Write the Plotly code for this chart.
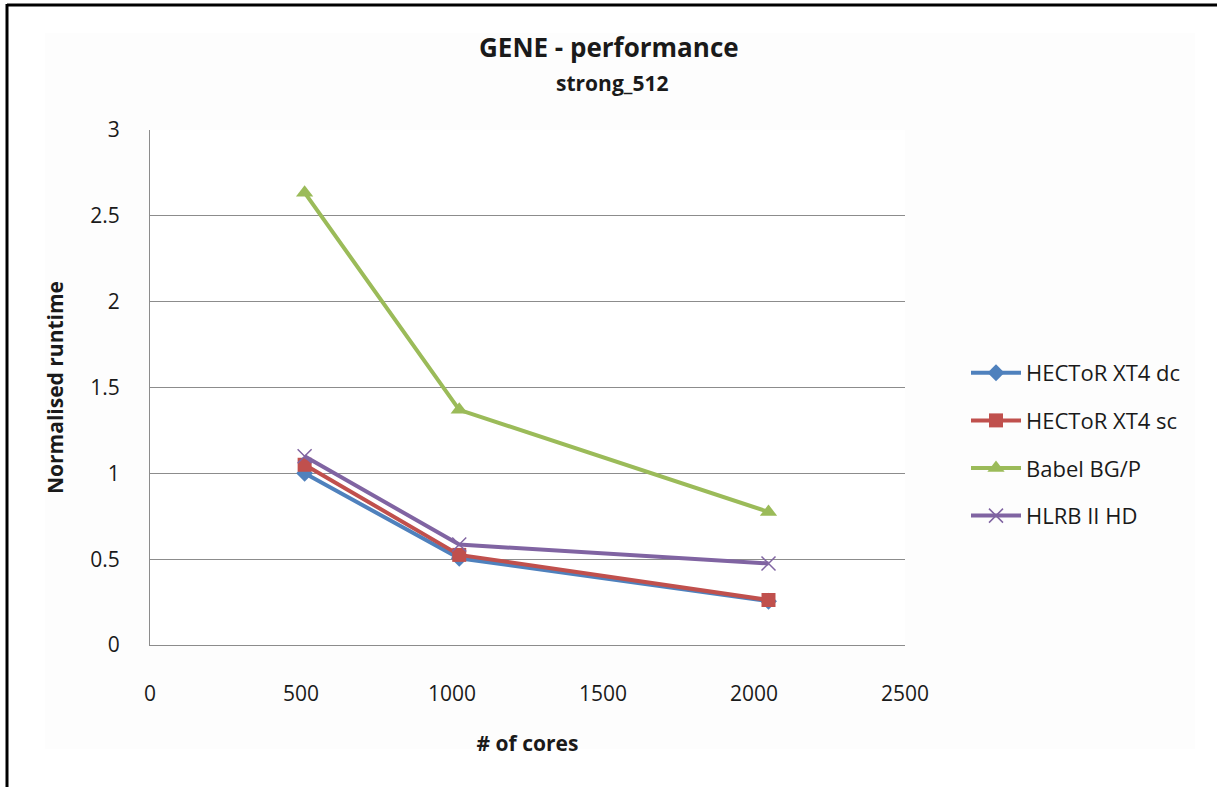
import plotly.graph_objects as go

# Core counts and normalised runtimes per machine
cores = [512, 1024, 2048]
hector_dc = [1.00, 0.505, 0.255]
hector_sc = [1.05, 0.525, 0.262]
babel_bgp = [2.635, 1.37, 0.775]
hlrb_hd = [1.10, 0.585, 0.475]

series_names = ["HECToR XT4 dc", "HECToR XT4 sc", "Babel BG/P", "HLRB II HD"]
series_values = [hector_dc, hector_sc, babel_bgp, hlrb_hd]
colors = ["#4F81BD", "#C0504D", "#9BBB59", "#8064A2"]
symbols = ["diamond", "square", "triangle-up", "x-thin"]
sizes = [13, 14, 15, 14]

x_ticks = [0, 500, 1000, 1500, 2000, 2500]
y_ticks = [0, 0.5, 1, 1.5, 2, 2.5, 3]

FONT = "Open Sans"
TXT = "#1a1a1a"

fig = go.Figure()
for name, vals, col, sym, sz in zip(series_names, series_values, colors, symbols, sizes):
    marker = dict(symbol=sym, size=sz, color=col)
    if sym == "x-thin":
        marker["line"] = dict(color=col, width=1.5)
    fig.add_trace(go.Scatter(
        x=cores, y=vals, name=name, mode="lines+markers",
        line=dict(color=col, width=4), marker=marker,
        legendgroup=name,
    ))

W, H = 1217, 787
L, R, T, B = 150, 312, 130, 142
pw, ph = W - L - R, H - T - B


def px_x(v):
    return (v - L) / pw


def px_y(v):
    return (H - B - v) / ph


fig.update_layout(
    width=W, height=H,
    margin=dict(l=L, r=R, t=T, b=B),
    paper_bgcolor="white", plot_bgcolor="white",
    font=dict(family=FONT, size=21, color=TXT),
    showlegend=True,
    legend=dict(
        x=px_x(966), y=px_y(352), xanchor="left", yanchor="top",
        font=dict(family=FONT, size=22, color=TXT),
        bgcolor="rgba(0,0,0,0)", itemwidth=50, tracegroupgap=16,
    ),
    xaxis=dict(
        range=[0, 2500], tickvals=x_ticks, showgrid=False, zeroline=False,
        showline=True, linecolor="#8c8c8c", linewidth=1, ticks="",
        ticklabelstandoff=30, tickfont=dict(size=21),
        title=dict(text="<b># of cores</b>", font=dict(size=21), standoff=30),
    ),
    yaxis=dict(
        range=[0, 3], tickvals=y_ticks, showgrid=True, gridcolor="#8c8c8c",
        gridwidth=1, zeroline=False, showline=True, linecolor="#8c8c8c",
        linewidth=1, ticks="", ticklabelstandoff=25, tickfont=dict(size=21),
        title=dict(text="<b>Normalised runtime</b>", font=dict(size=21), standoff=20),
    ),
    annotations=[
        dict(text="<b>GENE - performance</b>", xref="paper", yref="paper",
             x=px_x(609), y=px_y(47), xanchor="center", yanchor="middle",
             showarrow=False, font=dict(family=FONT, size=26, color=TXT)),
        dict(text="<b>strong_512</b>", xref="paper", yref="paper",
             x=px_x(612), y=px_y(83), xanchor="center", yanchor="middle",
             showarrow=False, font=dict(family=FONT, size=21, color=TXT)),
    ],
    shapes=[
        # faint chart-area panel
        dict(type="rect", xref="paper", yref="paper", layer="below",
             x0=px_x(45), x1=px_x(1195), y0=px_y(749), y1=px_y(33),
             fillcolor="#fdfdfd", line=dict(width=0)),
        # plot area fill on top of panel
        dict(type="rect", xref="paper", yref="paper", layer="below",
             x0=0, x1=1, y0=0, y1=1, fillcolor="white", line=dict(width=0)),
        # outer frame, top and left
        dict(type="line", xref="paper", yref="paper",
             x0=px_x(7), x1=px_x(1220), y0=px_y(5), y1=px_y(5),
             line=dict(color="black", width=3)),
        dict(type="line", xref="paper", yref="paper",
             x0=px_x(7), x1=px_x(7), y0=px_y(4), y1=px_y(790),
             line=dict(color="black", width=3)),
    ],
)

fig.write_html("out.html")
